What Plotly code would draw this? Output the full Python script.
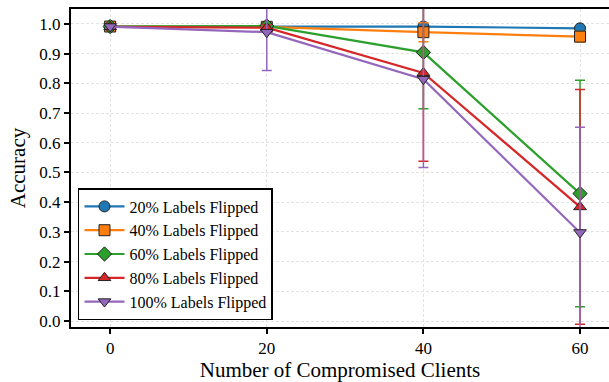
import plotly.graph_objects as go

# Number of compromised clients on the x axis
clients = [0, 20, 40, 60]

# Mean accuracy per label-flipping rate
acc_20 = [0.991, 0.990, 0.991, 0.985]
acc_40 = [0.991, 0.990, 0.972, 0.957]
acc_60 = [0.991, 0.993, 0.904, 0.429]
acc_80 = [0.990, 0.987, 0.835, 0.384]
acc_100 = [0.991, 0.972, 0.814, 0.298]

# Standard deviation per label-flipping rate
std_20 = [0.003, 0.003, 0.005, 0.005]
std_40 = [0.003, 0.005, 0.032, 0.017]
std_60 = [0.003, 0.006, 0.190, 0.381]
std_80 = [0.006, 0.010, 0.297, 0.395]
std_100 = [0.005, 0.129, 0.297, 0.354]

series_names = ["20% Labels Flipped", "40% Labels Flipped", "60% Labels Flipped",
                "80% Labels Flipped", "100% Labels Flipped"]
colors = ["#1f77b4", "#ff7f0e", "#2ca02c", "#d62728", "#9467bd"]
symbols = ["circle", "square", "diamond", "triangle-up", "triangle-down"]
means = [acc_20, acc_40, acc_60, acc_80, acc_100]
stds = [std_20, std_40, std_60, std_80, std_100]

FONT = "Liberation Serif, Times New Roman, serif"

fig = go.Figure()
for name, color, sym, y, e in zip(series_names, colors, symbols, means, stds):
    fig.add_trace(go.Scatter(
        x=clients, y=y, name=name, mode="lines+markers",
        line=dict(color=color, width=2.2),
        marker=dict(symbol=sym, size=11, color=color,
                    line=dict(color="#222222", width=1)),
        error_y=dict(type="data", array=e, visible=True, color=color,
                     thickness=1.5, width=5),
    ))

fig.update_layout(
    width=609, height=382,
    margin=dict(l=71, r=0, t=9, b=55),
    paper_bgcolor="white", plot_bgcolor="white",
    font=dict(family=FONT, size=16, color="black"),
    showlegend=True,
    legend=dict(
        x=0.013, y=0.022, xanchor="left", yanchor="bottom",
        bgcolor="white", bordercolor="black", borderwidth=1.5,
        font=dict(family=FONT, size=16, color="black"),
        tracegroupgap=0, itemwidth=40,
    ),
)

grid_style = dict(showgrid=True, gridcolor="#e3e3e3", griddash="3px,2px",
                  gridwidth=0.8, zeroline=False)

fig.update_xaxes(
    range=[-5, 63.7], tickvals=[0, 20, 40, 60],
    showline=True, linecolor="black", linewidth=2, mirror=True,
    ticks="outside", ticklen=5, tickwidth=2, tickcolor="black",
    tickfont=dict(family=FONT, size=17),
    title=dict(text="Number of Compromised Clients",
               font=dict(family=FONT, size=21), standoff=8),
    **grid_style,
)
fig.update_yaxes(
    range=[-0.02, 1.05], tickvals=[i / 10 for i in range(11)],
    tickformat=".1f",
    showline=True, linecolor="black", linewidth=2, mirror=False,
    ticks="outside", ticklen=5, tickwidth=2, tickcolor="black",
    tickfont=dict(family=FONT, size=17),
    title=dict(text="Accuracy", font=dict(family=FONT, size=21), standoff=8),
    **grid_style,
)

fig.write_html("out.html")
